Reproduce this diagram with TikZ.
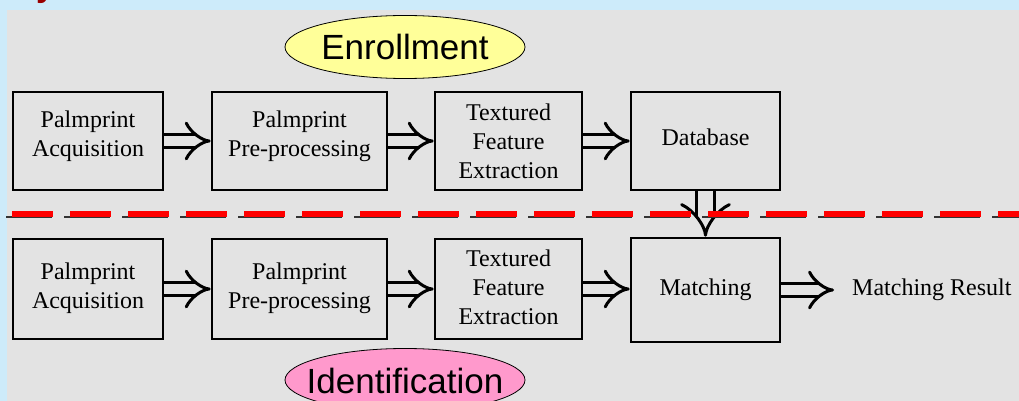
\documentclass[tikz,border=0pt]{standalone}
\usepackage{fontspec}
\setmainfont{Liberation Serif}
\newfontfamily\arialfont{Liberation Sans}
\usetikzlibrary{arrows.meta,shapes.geometric}
\definecolor{bgblue}{HTML}{CDEBFA}
\definecolor{bggray}{HTML}{E3E3E3}
\definecolor{ellyellow}{HTML}{FFFF99}
\definecolor{ellpink}{HTML}{FF99CC}
\definecolor{titlered}{HTML}{990000}
\tikzset{
  stagebox/.style={draw=black, line width=2.6pt, rectangle, inner sep=0pt},
  lbl/.style={font=\fontsize{24}{29}\selectfont, align=center, inner sep=0pt},
  phaseshape/.style={draw=black, line width=0.8pt},
  phase/.style={inner sep=0pt, font=\arialfont\fontsize{35}{40}\selectfont},
  dblh/.style={double=bggray, double distance=10.5pt, line width=3pt, -{Implies[scale=0.55]}},
  dblv/.style={double=bggray, double distance=15pt, line width=3pt, -{Implies[scale=0.5]}},
}
\begin{document}
\begin{tikzpicture}[x=1pt,y=-1pt]
\useasboundingbox (0,0) rectangle (1019,401);
\begin{scope}
\clip (0,0) rectangle (1019,401);
\fill[bgblue] (0,0) rectangle (1019,401);
\fill[bggray] (7,10) rectangle (1019,401);
\node[font=\arialfont\bfseries\fontsize{34}{34}\selectfont, text=titlered, anchor=base west, inner sep=0pt] (ttl) at (36,-3) {y};

% phase labels
\filldraw[phaseshape, fill=ellyellow] (405,47) ellipse [x radius=120, y radius=31.5];
\node[phase] (enr) at (405,47) {Enrollment};
\filldraw[phaseshape, fill=ellpink] (405,380) ellipse [x radius=120, y radius=31.5];
\node[phase] (idf) at (405,381) {Identification};

% enrollment row
\node[stagebox, minimum width=150pt, minimum height=98pt] (e1) at (88,141) {};
\node[stagebox, minimum width=175pt, minimum height=98pt] (e2) at (299.5,141) {};
\node[stagebox, minimum width=147pt, minimum height=98pt] (e3) at (508.5,141) {};
\node[stagebox, minimum width=149pt, minimum height=98pt] (db) at (705.5,141) {};
\node[lbl] at ([yshift=5pt]e1.center) {Palmprint\\Acquisition};
\node[lbl] at ([yshift=5pt]e2.center) {Palmprint\\Pre-processing};
\node[lbl] at (e3.center) {Textured\\Feature\\Extraction};
\node[lbl] at ([yshift=4pt]db.center) {Database};

% identification row
\node[stagebox, minimum width=150pt, minimum height=100pt] (i1) at (88,289) {};
\node[stagebox, minimum width=175pt, minimum height=100pt] (i2) at (299.5,289) {};
\node[stagebox, minimum width=147pt, minimum height=100pt] (i3) at (508.5,289) {};
\node[stagebox, minimum width=149pt, minimum height=104pt] (m) at (705.5,290) {};
\node[lbl] at ([yshift=1pt]i1.center) {Palmprint\\Acquisition};
\node[lbl] at ([yshift=1pt]i2.center) {Palmprint\\Pre-processing};
\node[lbl] at ([yshift=2pt]i3.center) {Textured\\Feature\\Extraction};
\node[lbl] at (m.center) {Matching};
\node[lbl, anchor=west] (res) at (852,290) {Matching Result};

% arrows
\draw[dblh] (e1) -- (e2);
\draw[dblh] (e2) -- (e3);
\draw[dblh] (e3) -- (db);
\draw[dblh] (i1) -- (i2);
\draw[dblh] (i2) -- (i3);
\draw[dblh] (i3) -- (i3 -| m.west);
\draw[dblh, shorten >=18pt] (m) -- (res);
\draw[dblv] (db) -- (m);

% separator
\coordinate (sl) at (12,213.5);
\coordinate (sr) at (1019,213.5);
\draw[black!80, line width=1.5pt, dash pattern=on 46pt off 12pt] ([shift={(-6,3.5)}]sl) -- ([shift={(0,3.5)}]sr);
\draw[red, line width=6pt, dash pattern=on 41pt off 17pt] (sl) -- (sr);
\end{scope}
\end{tikzpicture}
\end{document}
